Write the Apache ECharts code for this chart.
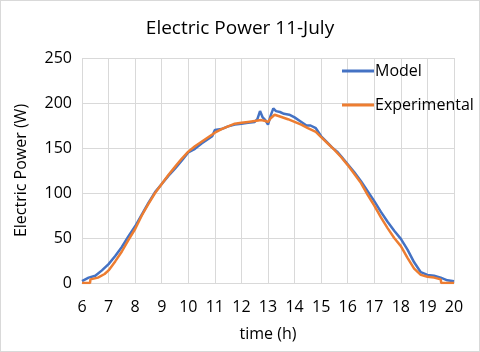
<!DOCTYPE html>
<html>
<head>
<meta charset="utf-8">
<script src="https://cdn.jsdelivr.net/npm/echarts@6/dist/echarts.min.js"></script>
<style>
  html, body { margin: 0; padding: 0; background: #fff; }
  #chart { width: 480px; height: 352px; box-sizing: border-box; border: 1px solid #d9d9d9; }
</style>
</head>
<body>
<div id="chart"></div>
<script>
// readings taken off the plot (hour, watts)
const modelTime = [6.0, 6.25, 6.5, 6.75, 7.0, 7.25, 7.5, 7.75, 8.0, 8.25, 8.5, 8.75, 9.0, 9.25, 9.5, 9.75,
  10.0, 10.25, 10.5, 10.75, 10.9, 11.0, 11.25, 11.5, 11.75, 12.0, 12.25, 12.5, 12.6, 12.7, 12.8, 12.9,
  13.0, 13.1, 13.2, 13.3, 13.45, 13.6, 13.8, 14.0, 14.2, 14.45, 14.6, 14.8, 15.0, 15.2, 15.4, 15.6, 15.8,
  16.0, 16.25, 16.5, 16.75, 17.0, 17.25, 17.5, 17.75, 18.0, 18.25, 18.5, 18.75, 19.0, 19.25, 19.5, 19.75, 20.0];
const modelPower = [2, 6, 8, 14, 21, 30, 40, 52, 63, 76, 89, 101, 110, 119, 127, 136,
  145, 149, 155, 160, 163, 170, 171, 174, 176, 177, 178, 179, 182, 191, 184, 181,
  176, 186, 194, 191, 190, 188, 187, 184, 180, 175, 175, 172, 163, 157, 151, 146, 139,
  132, 123, 113, 102, 91, 79, 68, 58, 49, 37, 23, 12, 9, 8, 6, 3, 2];

const expTime = [6.0, 6.3, 6.32, 6.6, 6.85, 7.0, 7.25, 7.5, 7.75, 8.0, 8.25, 8.5, 8.75, 9.0, 9.25, 9.5, 9.75,
  10.0, 10.25, 10.5, 10.75, 11.0, 11.25, 11.5, 11.75, 12.0, 12.25, 12.5, 12.75, 12.9, 13.0, 13.1, 13.25,
  13.45, 13.75, 14.0, 14.25, 14.5, 14.8, 15.0, 15.25, 15.5, 15.75, 16.0, 16.25, 16.5, 16.75, 17.0, 17.25,
  17.5, 17.75, 18.0, 18.25, 18.5, 18.75, 19.0, 19.25, 19.5, 19.52, 20.0];
const expPower = [0, 0, 4, 6, 10, 14, 24, 35, 48, 60, 75, 88, 100, 110, 120, 129, 138,
  146, 152, 157, 162, 167, 171, 174, 177, 178, 179, 180, 181, 180, 179, 183, 187,
  185, 182, 179, 176, 172, 168, 162, 155, 148, 140, 131, 121, 111, 98, 86, 73,
  61, 50, 41, 28, 16, 9, 7, 6, 4, 0, 0];

const seriesNames = ['Model', 'Experimental'];
const seriesColors = ['#4472C4', '#ED7D31'];

const chart = echarts.init(document.getElementById('chart'));

const pairs = (xs, ys) => xs.map((x, i) => [x, ys[i]]);

const font = 'Open Sans';

chart.setOption({
  animation: false,
  title: {
    text: 'Electric Power 11-July',
    left: 'center',
    top: 13,
    textStyle: { fontFamily: font, fontSize: 19, fontWeight: 'normal', color: '#000' }
  },
  legend: {
    orient: 'vertical',
    left: 336,
    top: 57,
    itemWidth: 32,
    itemHeight: 3,
    itemGap: 18,
    textStyle: { fontFamily: font, fontSize: 16, color: '#000', padding: [0, 0, 0, -4] },
    data: seriesNames.map((n, i) => ({ name: n, icon: 'rect', itemStyle: { color: seriesColors[i] } }))
  },
  grid: { left: 81, right: 25, top: 57, bottom: 68 },
  xAxis: {
    type: 'value',
    min: 6,
    max: 20,
    interval: 1,
    name: 'time (h)',
    nameLocation: 'middle',
    nameGap: 43,
    nameTextStyle: { fontFamily: font, fontSize: 16, color: '#000' },
    axisLine: { show: true, lineStyle: { color: '#d9d9d9', width: 1 } },
    axisTick: { show: false },
    axisLabel: { fontFamily: font, fontSize: 16, color: '#000', margin: 16 },
    splitLine: { show: true, lineStyle: { color: '#d9d9d9', width: 1 } }
  },
  yAxis: {
    type: 'value',
    min: 0,
    max: 250,
    interval: 50,
    name: 'Electric Power (W)',
    nameLocation: 'middle',
    nameGap: 53,
    nameTextStyle: { fontFamily: font, fontSize: 16, color: '#000' },
    axisLine: { show: false },
    axisTick: { show: false },
    axisLabel: { fontFamily: font, fontSize: 16, color: '#000', margin: 10 },
    splitLine: { show: true, lineStyle: { color: '#d9d9d9', width: 1 } }
  },
  series: [
    {
      name: seriesNames[0],
      type: 'line',
      data: pairs(modelTime, modelPower),
      showSymbol: false,
      symbol: 'none',
      color: seriesColors[0],
      lineStyle: { width: 2.5, color: seriesColors[0] }
    },
    {
      name: seriesNames[1],
      type: 'line',
      data: pairs(expTime, expPower),
      showSymbol: false,
      symbol: 'none',
      color: seriesColors[1],
      lineStyle: { width: 2.5, color: seriesColors[1] }
    }
  ]
});
</script>
</body>
</html>
